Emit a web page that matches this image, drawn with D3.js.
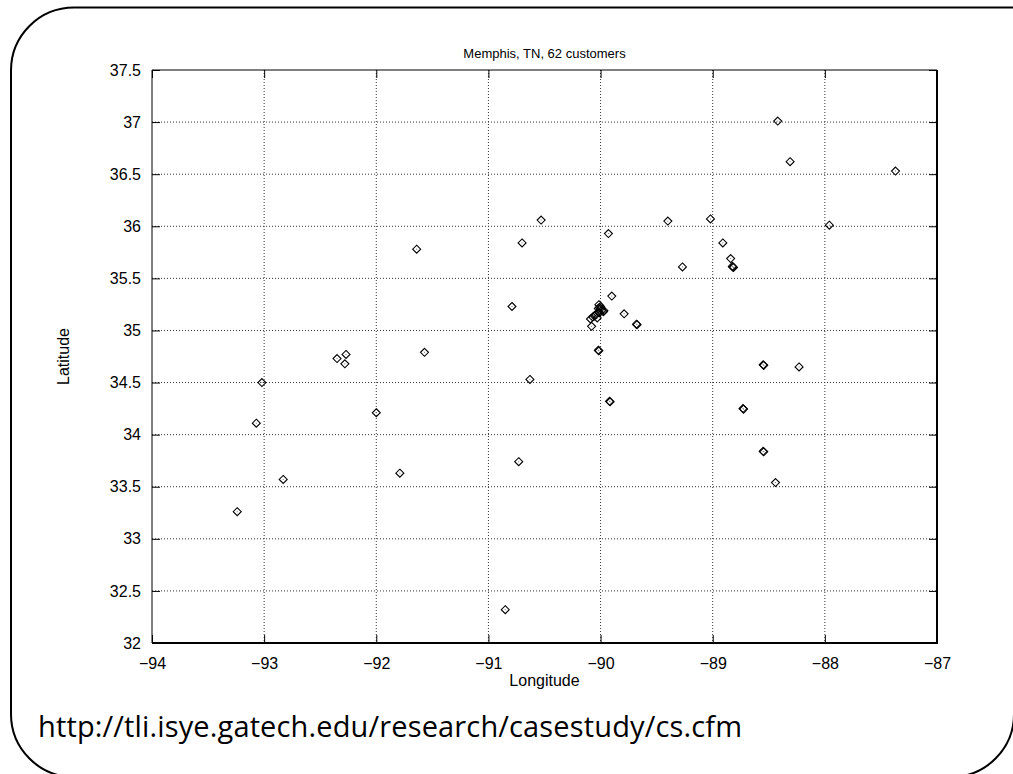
<!DOCTYPE html>
<html>
<head>
<meta charset="utf-8">
<script src="https://cdn.jsdelivr.net/npm/d3@7"></script>
<style>
body { margin: 0; background: #fff; }
svg { display: block; }
</style>
</head>
<body>
<svg id="chart" width="1013" height="774"></svg>
<script>
var chartTitle = "Memphis, TN, 62 customers";
var sourceUrl = "http://tli.isye.gatech.edu/research/casestudy/cs.cfm";
var xTicks = [-94, -93, -92, -91, -90, -89, -88, -87];
var yTicks = [32, 32.5, 33, 33.5, 34, 34.5, 35, 35.5, 36, 36.5, 37, 37.5];

// customer locations
var lon = [-88.42, -88.31, -87.37, -89.02, -87.96, -88.91, -88.84,
    -88.82, -88.815, -88.825, -89.27, -88.55, -88.545, -88.23,
    -89.90, -89.79, -89.68, -89.675, -90.02, -90.015,
    -90.53, -89.93, -90.70, -91.64, -90.79, -91.57, -90.63, -89.40,
    -89.92, -89.915, -88.73, -88.725, -90.73, -88.55, -88.545, -88.44,
    -92.83, -91.79, -93.24, -93.02, -93.07, -92.35, -92.27, -92.28,
    -92.00, -90.85,
    -90.015, -90.00, -90.02, -90.00, -89.99, -89.975, -89.97, -90.01,
    -90.02, -90.04, -90.055, -90.07, -90.09, -90.03, -90.08, -90.01];
var lat = [37.01, 36.62, 36.53, 36.07, 36.01, 35.84, 35.69,
    35.61, 35.605, 35.615, 35.61, 34.67, 34.665, 34.65,
    35.33, 35.16, 35.06, 35.055, 34.81, 34.805,
    36.06, 35.93, 35.84, 35.78, 35.23, 34.79, 34.53, 36.05,
    34.32, 34.315, 34.25, 34.245, 33.74, 33.84, 33.835, 33.54,
    33.57, 33.63, 33.26, 34.50, 34.11, 34.73, 34.77, 34.68,
    34.21, 32.32,
    35.247, 35.23, 35.21, 35.21, 35.19, 35.18, 35.19, 35.17,
    35.18, 35.15, 35.14, 35.13, 35.11, 35.12, 35.04, 35.22];

var margin = {top: 70, right: 76, bottom: 131, left: 152};
var width = 1013 - margin.left - margin.right;
var height = 774 - margin.top - margin.bottom;
var fontAxis = "'Liberation Sans', Arial, sans-serif";

var svg = d3.select("#chart");

// page frame: rounded on the left and bottom right, top runs off the page
svg.append("path")
    .attr("d", "M1020,7.5H74A63,63 0 0 0 11,70.5V714A63,63 0 0 0 74,777H951A63,63 0 0 0 1014,714V7.5")
    .attr("fill", "none")
    .attr("stroke", "#000")
    .attr("stroke-width", 2);

var x = d3.scaleLinear().domain([-94, -87]).range([0, width]);
var y = d3.scaleLinear().domain([32, 37.5]).range([height, 0]);

var g = svg.append("g")
    .attr("transform", "translate(" + margin.left + "," + margin.top + ")");

// dotted grid
g.selectAll("line.gx")
    .data(xTicks.slice(1, -1))
    .enter().append("line")
    .attr("class", "gx")
    .attr("x1", function(d) { return x(d); })
    .attr("x2", function(d) { return x(d); })
    .attr("y1", 0).attr("y2", height)
    .attr("stroke", "#333")
    .attr("stroke-dasharray", "1,2");

g.selectAll("line.gy")
    .data(yTicks.slice(1, -1))
    .enter().append("line")
    .attr("class", "gy")
    .attr("y1", function(d) { return y(d); })
    .attr("y2", function(d) { return y(d); })
    .attr("x1", 0).attr("x2", width)
    .attr("stroke", "#333")
    .attr("stroke-dasharray", "1,2");

// axes with inward ticks on all four sides
function styleAxis(sel) {
    sel.select(".domain").remove();
    sel.selectAll(".tick line").attr("stroke", "#000");
    sel.selectAll(".tick text")
        .attr("fill", "#000")
        .style("font-family", fontAxis)
        .style("font-size", "16px");
}

g.append("g")
    .attr("transform", "translate(0," + height + ")")
    .call(d3.axisBottom(x).tickValues(xTicks).tickFormat(d3.format("d"))
        .tickSizeInner(-8).tickPadding(15))
    .call(styleAxis);

g.append("g")
    .call(d3.axisTop(x).tickValues(xTicks).tickSizeInner(-8).tickFormat(""))
    .call(styleAxis);

g.append("g")
    .call(d3.axisLeft(y).tickValues(yTicks).tickFormat(d3.format("~g"))
        .tickSizeInner(-8).tickPadding(11))
    .call(styleAxis);

g.append("g")
    .attr("transform", "translate(" + width + ",0)")
    .call(d3.axisRight(y).tickValues(yTicks).tickSizeInner(-8).tickFormat(""))
    .call(styleAxis);

// plot border: thin left/top, heavier bottom/right
g.append("path")
    .attr("d", "M0," + height + "V0H" + width)
    .attr("fill", "none").attr("stroke", "#000").attr("stroke-width", 1);
g.append("path")
    .attr("d", "M0," + height + "H" + width + "V0")
    .attr("fill", "none").attr("stroke", "#000").attr("stroke-width", 2);

// diamond markers
var diamond = "M0,-4L4,0L0,4L-4,0Z";
var pts = g.selectAll("g.pt")
    .data(d3.range(lon.length))
    .enter().append("g")
    .attr("class", "pt")
    .attr("transform", function(i) {
        return "translate(" + x(lon[i]) + "," + y(lat[i]) + ")";
    });
pts.append("path")
    .attr("d", diamond)
    .attr("fill", "none")
    .attr("stroke", "#000")
    .attr("stroke-width", 1.1);
pts.append("rect")
    .attr("x", -0.5).attr("y", -0.5)
    .attr("width", 1).attr("height", 1)
    .attr("fill", "#777");

// titles
svg.append("text")
    .attr("x", margin.left + width / 2)
    .attr("y", 58)
    .attr("text-anchor", "middle")
    .style("font-family", fontAxis)
    .style("font-size", "13px")
    .text(chartTitle);

svg.append("text")
    .attr("x", margin.left + width / 2)
    .attr("y", 686)
    .attr("text-anchor", "middle")
    .style("font-family", fontAxis)
    .style("font-size", "16px")
    .text("Longitude");

svg.append("text")
    .attr("transform", "translate(69," + (margin.top + height / 2) + ") rotate(-90)")
    .attr("text-anchor", "middle")
    .style("font-family", fontAxis)
    .style("font-size", "16px")
    .text("Latitude");

svg.append("text")
    .attr("x", 38)
    .attr("y", 737)
    .attr("textLength", 704)
    .attr("lengthAdjust", "spacing")
    .style("font-family", "'Open Sans', sans-serif")
    .style("font-size", "29px")
    .text(sourceUrl);
</script>
</body>
</html>
